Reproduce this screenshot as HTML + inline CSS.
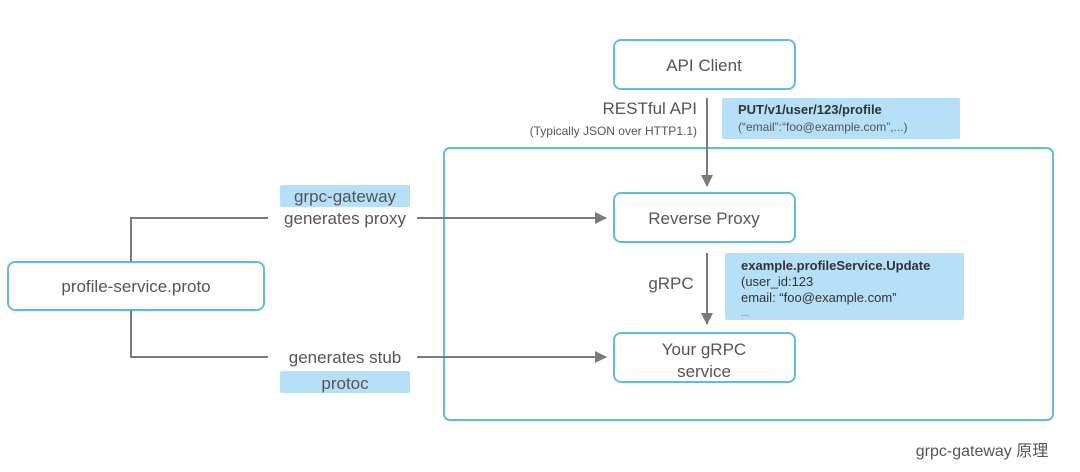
<!DOCTYPE html>
<html><head><meta charset="utf-8"><style>
html,body{margin:0;padding:0;background:#fff;}
svg{display:block;font-family:"Liberation Sans","Noto Sans CJK SC",sans-serif;}
</style></head><body>
<svg width="1080" height="472" viewBox="0 0 1080 472" xmlns="http://www.w3.org/2000/svg">
<defs><marker id="a" markerWidth="12" markerHeight="12" refX="11" refY="6" orient="auto" markerUnits="userSpaceOnUse"><path d="M0,0 L12,6 L0,12 z" fill="#7a7a7a"/></marker></defs>
<g fill="none" stroke="#5fbde3" stroke-width="2">
<rect x="444" y="148" width="609" height="272" rx="6"/>
<rect x="614" y="40" width="181" height="49" rx="7"/>
<rect x="614" y="193" width="181" height="49" rx="7"/>
<rect x="614" y="333" width="181" height="49" rx="7"/>
<rect x="8" y="262" width="256" height="48" rx="7"/>
</g>
<g fill="#b6e0f7">
<rect x="722" y="98" width="238" height="41" rx="2"/>
<rect x="725" y="253" width="239" height="67" rx="2"/>
<rect x="280" y="185" width="130" height="22" rx="2"/>
<rect x="280" y="371" width="130" height="22" rx="2"/>
</g>
<g stroke="#7a7a7a" stroke-width="2" fill="none">
<line x1="707" y1="98" x2="707" y2="186" marker-end="url(#a)"/>
<line x1="707" y1="253" x2="707" y2="324" marker-end="url(#a)"/>
<polyline points="131,262 131,218 268,218"/>
<polyline points="131,310 131,357 268,357"/>
<line x1="417" y1="218" x2="606" y2="218" marker-end="url(#a)"/>
<line x1="417" y1="357" x2="606" y2="357" marker-end="url(#a)"/>
</g>
<g fill="#555" font-size="17" text-anchor="middle">
<text x="704" y="71">API Client</text>
<text x="704" y="224">Reverse Proxy</text>
<text x="704" y="355">Your gRPC</text>
<text x="704" y="377">service</text>
<text x="136" y="292">profile-service.proto</text>
<text x="345" y="202">grpc-gateway</text>
<text x="345" y="224">generates proxy</text>
<text x="345" y="363">generates stub</text>
<text x="345" y="389">protoc</text>
<text x="671" y="289">gRPC</text>
<text x="697" y="114" text-anchor="end">RESTful API</text>
<text x="697" y="135" text-anchor="end" font-size="12">(Typically JSON over HTTP1.1)</text>
<text x="982" y="456" text-anchor="middle" font-size="16">grpc-gateway 原理</text>
</g>
<g fill="#333" font-size="13">
<text x="738" y="114" font-weight="bold">PUT/v1/user/123/profile</text>
<text x="738" y="131" font-size="12" fill="#555">(“email”:“foo@example.com”,...)</text>
<text x="741" y="270" font-weight="bold">example.profileService.Update</text>
<text x="741" y="286">(user_id:123</text>
<text x="741" y="302">email: “foo@example.com”</text>
<text x="741" y="316" font-size="10" fill="#777">...</text>
</g>
</svg>
</body></html>
